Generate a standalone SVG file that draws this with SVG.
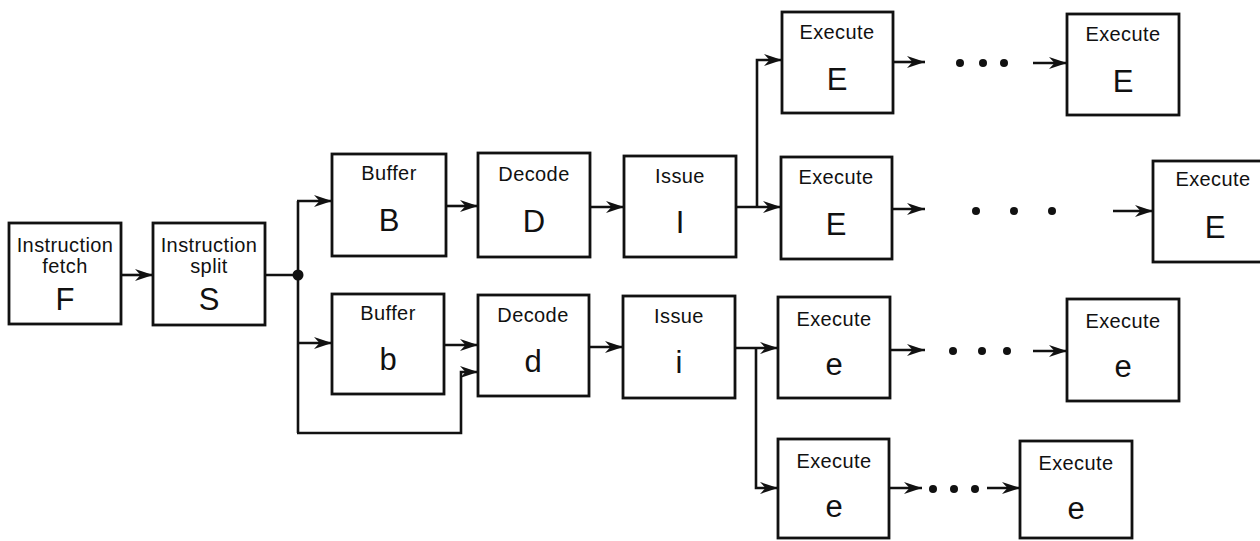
<svg xmlns="http://www.w3.org/2000/svg" width="1260" height="541" viewBox="0 0 1260 541">
  <defs>
    <marker id="arrow" markerUnits="userSpaceOnUse" markerWidth="20" markerHeight="14" refX="18" refY="7" orient="auto">
      <path d="M0,1 L18,7 L0,13 L5.5,7 Z" fill="#111"/>
    </marker>
  </defs>
  <style>
    .box { fill: #fff; stroke: #111; stroke-width: 2.8; }
    .wire { fill: none; stroke: #111; stroke-width: 2.6; }
    .arr { fill: none; stroke: #111; stroke-width: 2.6; marker-end: url(#arrow); }
    .dot { fill: #111; }
    .lbl { font-family: "Liberation Sans", Arial, sans-serif; font-size: 20px; fill: #111; text-anchor: middle; letter-spacing: 0.4px; }
    .big { font-family: "Liberation Sans", Arial, sans-serif; font-size: 31px; fill: #111; text-anchor: middle; }
  </style>
  <rect width="1260" height="541" fill="#fff"/>

  <!-- connectors -->
  <g id="connectors">
    <line class="arr" x1="121" y1="275" x2="153" y2="275"/>
    <line class="wire" x1="265" y1="275" x2="298" y2="275"/>
    <line class="wire" x1="298" y1="201" x2="298" y2="433"/>
    <circle class="dot" cx="298" cy="275" r="5.5"/>
    <line class="arr" x1="297" y1="201" x2="332" y2="201"/>
    <line class="arr" x1="297" y1="343" x2="332" y2="343"/>
    <polyline class="arr" points="297,433 461,433 461,372 478,372"/>

    <line class="arr" x1="446" y1="206" x2="478" y2="206"/>
    <line class="arr" x1="590" y1="207" x2="624" y2="207"/>
    <line class="arr" x1="736" y1="207" x2="781" y2="207"/>
    <polyline class="arr" points="757,207 757,60 782,60"/>

    <line class="arr" x1="444" y1="345" x2="478" y2="345"/>
    <line class="arr" x1="589" y1="347" x2="623" y2="347"/>
    <line class="arr" x1="735" y1="348" x2="778" y2="348"/>
    <polyline class="arr" points="756,348 756,488 778,488"/>

    <!-- upper E chain -->
    <line class="arr" x1="893" y1="62" x2="925" y2="62"/>
    <circle class="dot" cx="960" cy="63" r="4"/>
    <circle class="dot" cx="983" cy="63" r="4"/>
    <circle class="dot" cx="1004" cy="63" r="4"/>
    <line class="arr" x1="1033" y1="63" x2="1067" y2="63"/>

    <!-- middle E chain -->
    <line class="arr" x1="892" y1="209" x2="925" y2="209"/>
    <circle class="dot" cx="976" cy="211" r="4"/>
    <circle class="dot" cx="1014" cy="211" r="4"/>
    <circle class="dot" cx="1052" cy="211" r="4"/>
    <line class="arr" x1="1113" y1="211" x2="1153" y2="211"/>

    <!-- upper e chain -->
    <line class="arr" x1="890" y1="350" x2="925" y2="350"/>
    <circle class="dot" cx="953" cy="351" r="4"/>
    <circle class="dot" cx="982" cy="351" r="4"/>
    <circle class="dot" cx="1007" cy="351" r="4"/>
    <line class="arr" x1="1033" y1="351" x2="1067" y2="351"/>

    <!-- lower e chain -->
    <line class="arr" x1="889" y1="488" x2="922" y2="488"/>
    <circle class="dot" cx="933" cy="489" r="4"/>
    <circle class="dot" cx="954" cy="489" r="4"/>
    <circle class="dot" cx="975" cy="489" r="4"/>
    <line class="arr" x1="987" y1="488" x2="1020" y2="488"/>
  </g>

  <!-- front end -->
  <g id="fetch">
    <rect class="box" x="9" y="223" width="112" height="101"/>
    <text class="lbl" x="65" y="252">Instruction</text>
    <text class="lbl" x="65" y="273">fetch</text>
    <text class="big" x="65" y="310">F</text>
  </g>
  <g id="split">
    <rect class="box" x="153" y="223" width="112" height="102"/>
    <text class="lbl" x="209" y="252">Instruction</text>
    <text class="lbl" x="209" y="273">split</text>
    <text class="big" x="209" y="310">S</text>
  </g>

  <!-- upper pipe -->
  <g id="buffer-B">
    <rect class="box" x="332" y="154" width="114" height="102"/>
    <text class="lbl" x="389" y="180">Buffer</text>
    <text class="big" x="389" y="231">B</text>
  </g>
  <g id="decode-D">
    <rect class="box" x="478" y="153" width="112" height="104"/>
    <text class="lbl" x="534" y="181">Decode</text>
    <text class="big" x="534" y="232">D</text>
  </g>
  <g id="issue-I">
    <rect class="box" x="624" y="156" width="112" height="101"/>
    <text class="lbl" x="680" y="183">Issue</text>
    <text class="big" x="680" y="233">I</text>
  </g>

  <!-- lower pipe -->
  <g id="buffer-b">
    <rect class="box" x="332" y="294" width="112" height="100"/>
    <text class="lbl" x="388" y="320">Buffer</text>
    <text class="big" x="388" y="370">b</text>
  </g>
  <g id="decode-d">
    <rect class="box" x="478" y="295" width="111" height="101"/>
    <text class="lbl" x="533" y="322">Decode</text>
    <text class="big" x="533" y="372">d</text>
  </g>
  <g id="issue-i">
    <rect class="box" x="623" y="296" width="112" height="102"/>
    <text class="lbl" x="679" y="323">Issue</text>
    <text class="big" x="679" y="373">i</text>
  </g>

  <!-- execute units -->
  <g id="exec-E1">
    <rect class="box" x="782" y="12" width="111" height="101"/>
    <text class="lbl" x="837" y="39">Execute</text>
    <text class="big" x="837" y="90">E</text>
  </g>
  <g id="exec-E1n">
    <rect class="box" x="1067" y="14" width="112" height="101"/>
    <text class="lbl" x="1123" y="41">Execute</text>
    <text class="big" x="1123" y="92">E</text>
  </g>
  <g id="exec-E2">
    <rect class="box" x="781" y="157" width="111" height="102"/>
    <text class="lbl" x="836" y="184">Execute</text>
    <text class="big" x="836" y="235">E</text>
  </g>
  <g id="exec-E2n">
    <rect class="box" x="1153" y="161" width="116" height="101"/>
    <text class="lbl" x="1213" y="186">Execute</text>
    <text class="big" x="1215" y="238">E</text>
  </g>
  <g id="exec-e1">
    <rect class="box" x="778" y="297" width="112" height="101"/>
    <text class="lbl" x="834" y="326">Execute</text>
    <text class="big" x="834" y="375">e</text>
  </g>
  <g id="exec-e1n">
    <rect class="box" x="1067" y="299" width="112" height="102"/>
    <text class="lbl" x="1123" y="328">Execute</text>
    <text class="big" x="1123" y="377">e</text>
  </g>
  <g id="exec-e2">
    <rect class="box" x="778" y="439" width="111" height="99"/>
    <text class="lbl" x="834" y="468">Execute</text>
    <text class="big" x="834" y="517">e</text>
  </g>
  <g id="exec-e2n">
    <rect class="box" x="1020" y="441" width="112" height="97"/>
    <text class="lbl" x="1076" y="470">Execute</text>
    <text class="big" x="1076" y="519">e</text>
  </g>
</svg>
